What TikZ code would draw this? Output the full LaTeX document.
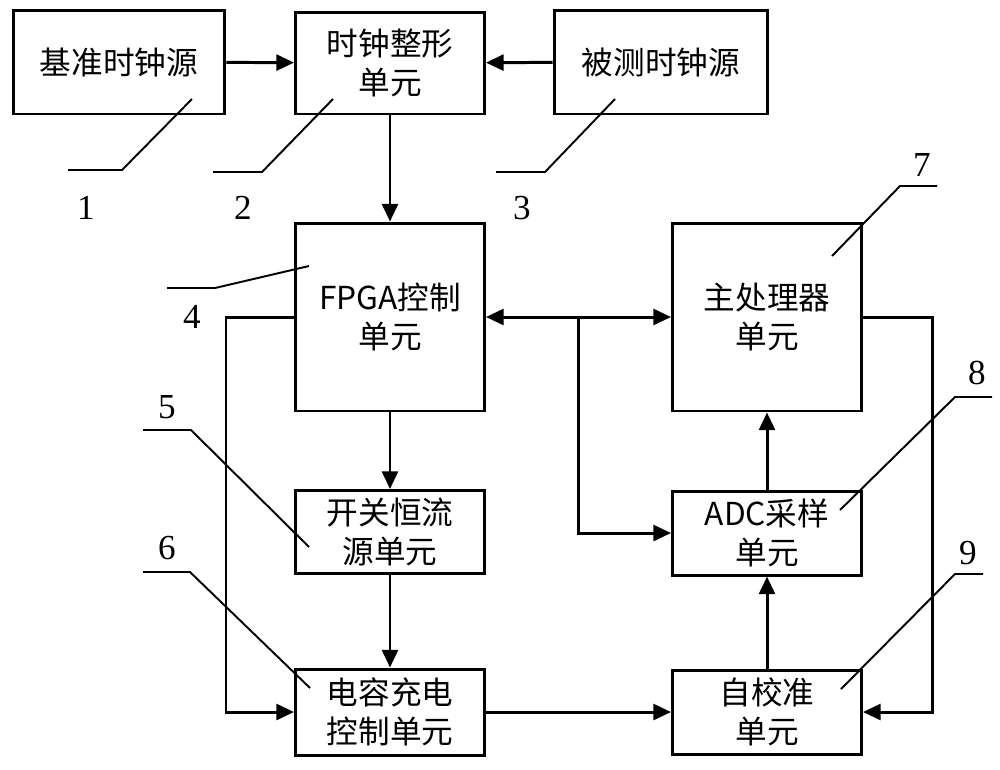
\documentclass[tikz,border=0pt]{standalone}
\usepackage{fontspec}
\usepackage{tikz}
\usetikzlibrary{arrows.meta}
\usetikzlibrary{positioning}
\newfontfamily\cjk{Noto Sans CJK SC}
\newfontfamily\numfont{Liberation Serif}

\tikzset{
    unit/.style={draw, line width=1.7pt, align=center, inner sep=0pt,
        font=\cjk\fontsize{18}{22}\selectfont},
    link/.style={line width=1.7pt, -{Triangle[length=10pt,width=9pt]}},
    lead/.style={line width=1.1pt},
    num/.style={font=\numfont\fontsize{20}{22}\selectfont}
}

\begin{document}
\begin{tikzpicture}[x=0.02cm, y=-0.02cm]
    \useasboundingbox (0,0) rectangle (1000,769);

    \node[unit, minimum width=4.24cm, minimum height=2.08cm] (refclk) at (119,62) {基准时钟源};
    \node[unit, minimum width=3.78cm, minimum height=2.04cm] (shaper) at (390,63) {时钟整形\\单元};
    \node[unit, minimum width=4.28cm, minimum height=2.08cm] (dutclk) at (661,62) {被测时钟源};
    \node[unit, minimum width=3.78cm, minimum height=3.76cm] (fpga) at (390,317) {FPGA控制\\单元};
    \node[unit, minimum width=3.78cm, minimum height=3.76cm] (cpu) at (767,317) {主处理器\\单元};
    \node[unit, minimum width=3.78cm, minimum height=1.66cm] (isrc) at (390,532) {开关恒流\\源单元};
    \node[unit, minimum width=3.78cm, minimum height=1.68cm] (adc) at (767,533) {ADC采样\\单元};
    \node[unit, minimum width=3.78cm, minimum height=1.72cm] (charge) at (390,712) {电容充电\\控制单元};
    \node[unit, minimum width=3.78cm, minimum height=1.68cm] (calib) at (767,712) {自校准\\单元};

    \draw[link] (refclk) -- (shaper);
    \draw[link] (dutclk) -- (shaper);
    \draw[link] (shaper) -- (fpga);
    \draw[link] (fpga) -- (isrc);
    \draw[link] (isrc) -- (charge);
    \draw[link] (charge) -- (calib);
    \draw[link] (calib) -- (adc);
    \draw[link] (adc) -- (cpu);
    \draw[link, {Triangle[length=10pt,width=9pt]}-{Triangle[length=10pt,width=9pt]}] (fpga) -- (cpu);

    \coordinate (tap) at (578,317);
    \coordinate (backl) at (226,317);
    \coordinate (backr) at (932,317);
    \draw[link] (tap) |- (adc.west);
    \draw[link] (fpga.west) -- (backl) |- (charge.west);
    \draw[link] (cpu.east) -- (backr) |- (calib.east);

    \draw[lead] (192,99) -- (122,170) -- (68,170);
    \draw[lead] (333,99) -- (262,172) -- (213,172);
    \draw[lead] (615,99) -- (545,172) -- (496,172);
    \draw[lead] (309,266) -- (215,288) -- (167,288);
    \draw[lead] (309,547) -- (191,430) -- (143,430);
    \draw[lead] (310,688) -- (190,572) -- (143,572);
    \draw[lead] (832,256) -- (900,186) -- (937,186);
    \draw[lead] (840,510) -- (955,397) -- (992,397);
    \draw[lead] (841,689) -- (955,574) -- (983,574);

    \node[num] (n1) at (86,208) {1};
    \node[num] (n2) at (243,208) {2};
    \node[num] (n3) at (522,208) {3};
    \node[num] (n4) at (192,317) {4};
    \node[num] (n5) at (167,407) {5};
    \node[num] (n6) at (167,548) {6};
    \node[num] (n7) at (922,165) {7};
    \node[num] (n8) at (977,373) {8};
    \node[num] (n9) at (968,553) {9};
  \end{tikzpicture}
\end{document}
